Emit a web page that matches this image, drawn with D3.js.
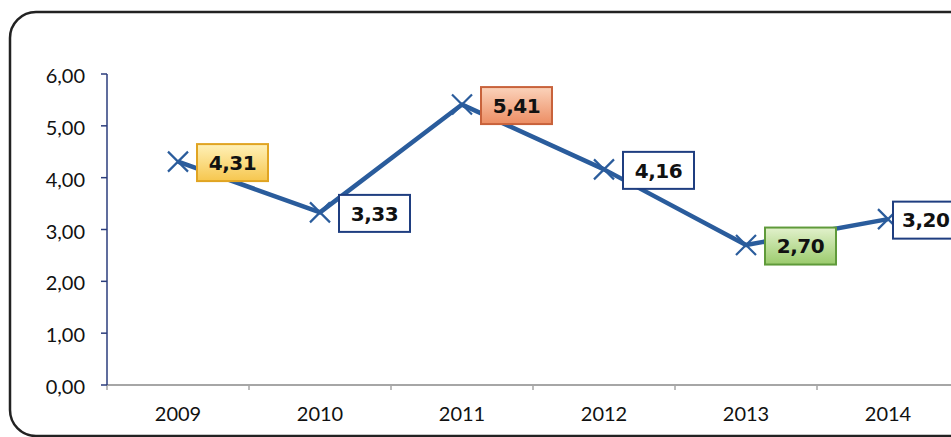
<!DOCTYPE html>
<html><head><meta charset="utf-8">
<script src="https://cdn.jsdelivr.net/npm/d3@7"></script>
<style>html,body{margin:0;padding:0;background:#fff;overflow:hidden}</style>
</head><body>
<svg id="c" width="951" height="437"></svg>
<script>
const years = ["2009","2010","2011","2012","2013","2014"];
const values = [4.31, 3.33, 5.41, 4.16, 2.70, 3.20];
const labels = ["4,31","3,33","5,41","4,16","2,70","3,20"];
const labelStyles = ["yellow","white","orange","white","green","white"];
const yTicks = [0,1,2,3,4,5,6];

const svg = d3.select("#c");
const defs = svg.append("defs");
const grads = {
  yellow: ["#fff1b8","#f6c64e","#e0a422"],
  orange: ["#fbd3bb","#ec8d63","#c8623b"],
  green:  ["#e2f1cc","#9bcb6c","#5f9a3a"]
};
Object.entries(grads).forEach(([k,c])=>{
  const g = defs.append("linearGradient").attr("id","g-"+k).attr("x1",0).attr("y1",0).attr("x2",0).attr("y2",1);
  g.append("stop").attr("offset","0%").attr("stop-color",c[0]);
  g.append("stop").attr("offset","100%").attr("stop-color",c[1]);
});

// frame
svg.append("rect").attr("x",10).attr("y",12).attr("width",1000).attr("height",424)
  .attr("rx",26).attr("ry",26).attr("fill","none").attr("stroke","#222").attr("stroke-width",2.5);

const pLeft = 107, pRight = 959, pTop = 74, pBottom = 385;
const x = d3.scaleBand().domain(years).range([pLeft, pRight]).padding(0);
const y = d3.scaleLinear().domain([0,6]).range([pBottom, pTop]);
const tickFont = "Lato, 'Open Sans', sans-serif";

// x axis
const xg = svg.append("g").attr("transform",`translate(0,${pBottom})`);
xg.append("line").attr("x1",pLeft).attr("x2",951).attr("stroke","#a6a6a6").attr("stroke-width",2);
xg.selectAll("line.t").data(years).enter().append("line")
  .attr("class","t")
  .attr("x1",d=>x(d)).attr("x2",d=>x(d))
  .attr("y1",0).attr("y2",5).attr("stroke","#a6a6a6").attr("stroke-width",1.5);
xg.selectAll("text").data(years).enter().append("text")
  .attr("x",d=>x(d)+x.bandwidth()/2).attr("y",36)
  .attr("text-anchor","middle").attr("font-family",tickFont)
  .attr("font-size",20).attr("fill","#111").text(d=>d);

// y axis
const yg = svg.append("g");
yg.append("line").attr("x1",pLeft).attr("x2",pLeft).attr("y1",pTop).attr("y2",pBottom)
  .attr("stroke","#2b3d7c").attr("stroke-width",1.5);
yg.selectAll("line.t").data(yTicks).enter().append("line").attr("class","t")
  .attr("x1",pLeft-6).attr("x2",pLeft).attr("y1",d=>y(d)).attr("y2",d=>y(d))
  .attr("stroke","#2b3d7c").attr("stroke-width",1.5);
yg.selectAll("text").data(yTicks).enter().append("text")
  .attr("x",85).attr("y",d=>y(d)+2).attr("dy","0.35em").attr("text-anchor","end")
  .attr("font-family",tickFont).attr("font-size",20).attr("fill","#111")
  .text(d=>d3.format(".2f")(d).replace(".",","));

// line
const pts = years.map((d,i)=>[x(d)+x.bandwidth()/2, y(values[i])]);
svg.append("path").attr("d",d3.line()(pts)).attr("fill","none")
  .attr("stroke","#2a5c9c").attr("stroke-width",4.5).attr("stroke-linejoin","round");

// markers
const ms = 10;
svg.selectAll("path.m").data(pts).enter().append("path").attr("class","m")
  .attr("d",p=>`M${p[0]-ms},${p[1]-ms}L${p[0]+ms},${p[1]+ms}M${p[0]-ms},${p[1]+ms}L${p[0]+ms},${p[1]-ms}`)
  .attr("stroke","#2a5c9c").attr("stroke-width",2.2).attr("fill","none");

// labels
const bw = 71, bh = 37;
const last = years.length-1;
const gapX = years.map((d,i)=> i===last ? 5 : 19);
const lg = svg.selectAll("g.lab").data(pts).enter().append("g").attr("class","lab")
  .attr("transform",(p,i)=>`translate(${p[0]+gapX[i]},${p[1]-bh/2+1})`);
lg.append("rect").attr("width",bw).attr("height",bh)
  .attr("fill",(d,i)=>labelStyles[i]==="white"?"#fff":`url(#g-${labelStyles[i]})`)
  .attr("stroke",(d,i)=>labelStyles[i]==="white"?"#1f3e80":grads[labelStyles[i]][2])
  .attr("stroke-width",2);
lg.append("text")
  .attr("x",(d,i)=> i===last ? 9 : bw/2).attr("y",bh/2).attr("dy","0.36em")
  .attr("text-anchor",(d,i)=> i===last ? "start" : "middle")
  .attr("font-family","DejaVu Sans, Verdana, sans-serif").attr("font-weight","bold")
  .attr("letter-spacing",-0.5)
  .attr("font-size",20).attr("fill","#111").text((d,i)=>labels[i]);
</script>
</body></html>
